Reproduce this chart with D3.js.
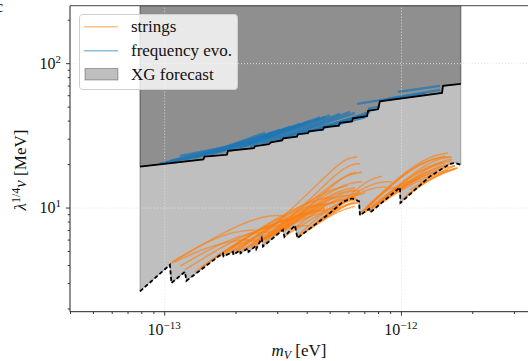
<!DOCTYPE html>
<html><head><meta charset="utf-8">
<script src="https://cdn.jsdelivr.net/npm/d3@7"></script>
<style>
body{margin:0;background:#fff}
svg{display:block}
text{font-family:"Liberation Serif","DejaVu Serif",serif;fill:#111}
</style>
</head><body>
<svg id="chart" width="528" height="361"></svg>
<script>
// ---------------- data ----------------
const massDomain = [4e-14, 3.44e-12];     // eV
const couplingDomain = [1.9, 250];         // MeV
const fillTop = 250;
const xMajorTicks = [1e-13, 1e-12];
const xTickExponents = ["\u221213", "\u221212"];
const yMajorTicks = [10, 100];
const yTickExponents = ["1", "2"];
const legendLabels = ["strings", "frequency evo.", "XG forecast"];

// lower (dashed) boundary of strings region: [m_V (eV), lambda^1/4 v (MeV)]
const lowerBoundary = [[0.79e-13,2.63],[1.057e-13,4.01],[1.073e-13,3.00],[1.223e-13,3.59],[1.241e-13,3.11],
 [1.686e-13,4.56],[1.770e-13,4.82],[1.78e-13,4.59],[1.951e-13,4.93],[1.96e-13,4.70],[2.089e-13,5.05],[2.10e-13,4.82],
 [2.258e-13,5.22],[2.27e-13,4.93],[2.44e-13,5.43],[2.45e-13,5.18],[2.579e-13,6.14],[2.612e-13,5.37],[3.172e-13,7.01],
 [3.219e-13,6.27],[3.566e-13,7.53],[3.653e-13,6.14],[5.01e-13,9.15],[5.69e-13,10.95],[6.21e-13,11.58],[6.65e-13,11.04],
 [6.71e-13,8.83],[7.33e-13,9.79],[7.43e-13,9.26],[9.90e-13,13.8],[9.95e-13,10.78],[1.326e-12,16.44],[1.611e-12,20.07],
 [1.691e-12,20.4],[1.79e-12,19.77]];

// upper (solid) boundary: frequency evolution envelope
const upperBoundary = [[0.79e-13,19.2],[1.464e-13,21.57],[1.479e-13,22.5],[1.84e-13,23.2],[1.858e-13,24.7],
 [2.393e-13,25.8],[2.417e-13,26.6],[2.77e-13,27.5],[2.824e-13,28.3],[3.144e-13,29.2],[3.19e-13,30.2],[3.637e-13,31.0],
 [3.672e-13,32.2],[4.048e-13,32.7],[4.088e-13,33.7],[4.683e-13,34.6],[4.729e-13,35.9],[5.47e-13,36.9],[5.525e-13,38.6],
 [6.21e-13,39.5],[6.27e-13,41.5],[7.19e-13,42.9],[7.26e-13,46.8],[8.0e-13,47.9],[8.15e-13,54.4],[1.491e-12,62.2],
 [1.505e-12,69.6],[1.79e-12,71.8]];

// string simulation tracks
const stringTracks = [
 [[1.06e-13,4.07],[1.42e-13,5.52],[1.90e-13,6.78],[2.42e-13,7.0]],
 [[1.08e-13,4.2],[1.56e-13,5.97],[2.19e-13,7.95],[2.80e-13,8.9],[3.24e-13,8.76]],
 [[1.22e-13,3.7],[1.72e-13,5.26],[2.42e-13,7.0],[3.08e-13,7.6]],
 [[1.42e-13,3.82],[2.09e-13,5.97],[2.94e-13,7.95],[3.75e-13,8.76]],
 [[1.64e-13,4.48],[2.30e-13,6.5],[3.24e-13,8.9],[4.13e-13,10.4],[4.78e-13,10.6]],
 [[1.81e-13,4.78],[2.54e-13,7.23],[3.57e-13,9.91],[4.55e-13,11.6],[5.26e-13,11.8]],
 [[1.99e-13,4.93],[2.80e-13,7.48],[3.93e-13,10.6],[5.01e-13,13.3],[5.97e-13,14.2]],
 [[2.19e-13,5.1],[3.08e-13,8.2],[4.13e-13,12.9],[5.11e-13,18.2],[5.91e-13,22.1],[6.52e-13,22.4]],
 [[2.42e-13,5.35],[3.40e-13,8.47],[4.46e-13,12.9],[5.42e-13,17.6],[6.21e-13,20.1],[6.71e-13,20.1]],
 [[2.59e-13,5.97],[3.57e-13,9.04],[4.78e-13,13.3],[5.80e-13,16.8],[6.85e-13,17.6]],
 [[2.80e-13,6.4],[3.75e-13,9.3],[5.01e-13,12.9],[6.09e-13,14.9],[6.85e-13,15.1]],
 [[3.17e-13,6.89],[4.13e-13,9.6],[5.26e-13,12.6],[6.39e-13,13.3]],
 [[3.40e-13,6.78],[4.33e-13,9.3],[5.53e-13,12.0],[6.71e-13,12.6]],
 [[3.67e-13,6.4],[4.55e-13,8.9],[5.80e-13,11.6],[7.05e-13,12.6]],
 [[3.93e-13,6.78],[4.78e-13,8.9],[5.80e-13,10.6],[6.71e-13,10.9]],
 [[4.33e-13,7.72],[5.26e-13,9.91],[6.09e-13,11.3],[6.58e-13,11.3]],
 [[1.17e-13,3.94],[1.64e-13,5.43],[2.30e-13,6.78],[2.94e-13,6.78]],
 [[1.90e-13,4.86],[2.66e-13,6.78],[3.75e-13,9.04],[4.78e-13,9.6]],
 [[2.30e-13,5.26],[3.24e-13,7.48],[4.33e-13,9.6],[5.53e-13,9.91]],
 [[2.94e-13,6.5],[3.93e-13,8.76],[5.26e-13,11.3],[6.45e-13,11.8]],
 [[2.09e-13,5.02],[2.80e-13,6.5],[3.57e-13,7.48],[4.05e-13,7.48]],
 [[1.35e-13,3.58],[1.81e-13,5.1],[2.30e-13,5.97],[2.59e-13,5.97]],
 [[1.11e-13,4.2],[1.49e-13,5.26],[1.99e-13,5.97],[2.30e-13,5.97]],
 [[2.49e-13,5.61],[3.40e-13,7.95],[4.55e-13,10.4],[5.64e-13,11.3]],
 [[2.66e-13,5.97],[3.47e-13,7.72],[4.55e-13,9.3],[5.26e-13,9.45]],
 [[1.72e-13,4.6],[2.19e-13,6.14],[2.80e-13,7.72],[3.40e-13,8.2]],
 [[1.86e-13,4.78],[2.42e-13,6.4],[3.24e-13,8.47],[4.13e-13,9.3]],
 [[2.05e-13,5.02],[2.66e-13,7.0],[3.57e-13,9.3],[4.55e-13,10.57],[5.26e-13,10.75]],
 [[2.35e-13,5.35],[3.08e-13,7.48],[4.13e-13,9.91],[5.26e-13,12.0],[6.09e-13,12.2]],
 [[2.64e-13,5.7],[3.40e-13,7.95],[4.33e-13,10.57],[5.53e-13,13.3],[6.39e-13,13.7]],
 [[3.02e-13,6.78],[3.75e-13,8.47],[4.78e-13,10.9],[5.80e-13,12.9],[6.71e-13,13.1]],
 [[3.27e-13,6.4],[4.13e-13,8.2],[5.26e-13,10.4],[6.39e-13,11.6]],
 [[3.75e-13,6.4],[4.55e-13,7.95],[5.53e-13,9.6],[6.39e-13,10.2]],
 [[4.13e-13,7.1],[5.01e-13,9.04],[5.97e-13,10.57],[6.58e-13,10.75]],
 [[4.55e-13,7.95],[5.53e-13,9.91],[6.39e-13,11.1]],
 [[2.97e-13,6.6],[3.93e-13,9.6],[5.01e-13,13.7],[5.97e-13,17.1],[6.45e-13,17.6]],
 [[2.17e-13,5.1],[2.94e-13,7.23],[3.93e-13,9.3],[4.78e-13,9.91]],
 [[5.01e-13,9.3],[6.09e-13,12.2],[7.26e-13,15.6],[8.32e-13,16.5]],
 [[5.69e-13,10.8],[6.71e-13,13.3],[8.0e-13,15.1],[9.15e-13,15.1]],
 [[4.55e-13,8.2],[5.80e-13,11.3],[7.40e-13,13.7],[8.64e-13,13.9]],
 [[6.85e-13,9.3],[8.98e-13,14.4],[1.146e-12,19.8],[1.392e-12,23.2],[1.58e-12,23.9]],
 [[7.05e-13,9.6],[9.43e-13,15.1],[1.203e-12,20.4],[1.462e-12,22.4],[1.611e-12,22.4]],
 [[7.40e-13,9.6],[9.43e-13,13.7],[1.203e-12,18.2],[1.462e-12,20.7],[1.64e-12,21.0]],
 [[7.55e-13,9.91],[9.90e-13,14.4],[1.263e-12,18.8],[1.534e-12,20.4]],
 [[7.77e-13,10.2],[9.90e-13,13.3],[1.203e-12,16.3],[1.392e-12,17.6]],
 [[8.15e-13,10.6],[1.039e-12,13.7],[1.326e-12,16.8],[1.58e-12,18.2]],
 [[8.56e-13,11.3],[1.091e-12,14.9],[1.392e-12,18.2],[1.691e-12,19.5]],
 [[1.009e-12,11.3],[1.203e-12,14.2],[1.462e-12,17.1],[1.691e-12,18.5]],
 [[1.049e-12,12.0],[1.263e-12,15.1],[1.534e-12,17.6],[1.724e-12,18.8]],
 [[7.05e-13,9.3],[8.56e-13,12.2],[1.039e-12,15.1],[1.203e-12,15.9]],
 [[6.71e-13,9.04],[7.77e-13,11.6],[8.98e-13,13.7],[9.71e-13,13.9]],
 [[7.26e-13,9.6],[9.43e-13,13.3],[1.263e-12,17.6],[1.534e-12,19.5]],
 [[1.091e-12,13.3],[1.326e-12,15.9],[1.58e-12,18.2],[1.74e-12,18.8]],
 [[1.203e-12,14.9],[1.462e-12,17.6],[1.691e-12,19.5]],
 [[7.85e-13,10.4],[9.90e-13,14.6],[1.263e-12,19.8],[1.49e-12,22.1],[1.64e-12,22.4]],
 [[8.98e-13,12.0],[1.146e-12,16.3],[1.434e-12,20.7],[1.64e-12,21.7]],
 [[6.92e-13,9.3],[8.56e-13,13.3],[1.091e-12,18.2],[1.326e-12,21.4],[1.534e-12,22.8]],
 [[9.43e-13,12.6],[1.203e-12,16.8],[1.462e-12,19.5],[1.64e-12,20.1]]
];

// frequency-evolution tracks
const freqTracks = [
 [[0.959e-13,20.1],[1.486e-13,23.6]],
 [[1.007e-13,20.4],[1.805e-13,25.1]],
 [[1.11e-13,21.0],[2.089e-13,27.2]],
 [[1.223e-13,21.4],[2.417e-13,29.4]],
 [[1.348e-13,22.1],[2.664e-13,32.9]],
 [[1.415e-13,22.8],[3.083e-13,34.5]],
 [[1.56e-13,23.2],[3.398e-13,36.2]],
 [[1.719e-13,24.3],[3.745e-13,38.0]],
 [[1.895e-13,24.7],[4.128e-13,39.8]],
 [[2.089e-13,25.9],[4.549e-13,42.2]],
 [[2.302e-13,26.3],[5.01e-13,43.5]],
 [[2.587e-13,27.6],[5.525e-13,44.6]],
 [[2.936e-13,28.9],[6.09e-13,46.0]],
 [[3.398e-13,31.0],[6.71e-13,42.9]],
 [[3.745e-13,32.4],[7.05e-13,42.2]],
 [[4.549e-13,35.7],[7.26e-13,44.6]],
 [[5.525e-13,39.2],[7.40e-13,46.0]],
 [[6.52e-13,52.2],[8.32e-13,55.7]],
 [[7.26e-13,48.3],[8.15e-13,50.0]],
 [[8.32e-13,55.7],[1.263e-12,62.2]],
 [[8.81e-13,56.6],[1.462e-12,65.3]],
 [[9.71e-13,63.3],[1.462e-12,69.6]],
 [[1.165e-13,22.8],[1.93e-13,26.7]],
 [[2.35e-13,29.4],[3.745e-13,36.8]],
 [[1.057e-13,21.0],[2.302e-13,28.9]],
 [[1.638e-13,24.3],[3.932e-13,38.0]],
 [[2.193e-13,26.6],[4.776e-13,42.5]],
 [[3.083e-13,29.9],[6.39e-13,45.3]],
 [[1.284e-13,22.4],[2.797e-13,31.0]]
];

// ---------------- drawing ----------------
const svg = d3.select("#chart");
const L = 70, R = 528, T = 5.7, B = 311.7;
const x = d3.scaleLog().domain(massDomain).range([L, R]);
const y = d3.scaleLog().domain(couplingDomain).range([B, T]);

svg.append("defs").append("clipPath").attr("id","clip")
  .append("rect").attr("x",L).attr("y",T).attr("width",R-L).attr("height",B-T);
const plot = svg.append("g").attr("clip-path","url(#clip)");

const area = d3.area().x(d=>x(d[0])).y0(y(fillTop)).y1(d=>y(d[1]));
[lowerBoundary, upperBoundary].forEach(b=>{
  plot.append("path").attr("d", area(b))
    .attr("fill","rgba(0,0,0,0.25)").attr("stroke","rgba(0,0,0,0.25)").attr("stroke-width",1);
});

// grid
plot.append("g").attr("transform",`translate(0,${B})`)
  .call(d3.axisBottom(x).tickValues(xMajorTicks).tickSize(-(B-T)).tickFormat(""))
  .call(g=>g.select(".domain").remove())
  .selectAll("line").attr("stroke","#e3e3e3").attr("stroke-width",0.9).attr("stroke-dasharray","1,2");
plot.append("g").attr("transform",`translate(${L},0)`)
  .call(d3.axisLeft(y).tickValues(yMajorTicks).tickSize(-(R-L)).tickFormat(""))
  .call(g=>g.select(".domain").remove())
  .selectAll("line").attr("stroke","#e3e3e3").attr("stroke-width",0.9).attr("stroke-dasharray","1,2");

const line = d3.line().x(d=>x(d[0])).y(d=>y(d[1]));
const smooth = d3.line().x(d=>x(d[0])).y(d=>y(d[1])).curve(d3.curveBasis);

plot.append("g").selectAll("path").data(stringTracks).join("path")
  .attr("d", smooth).attr("fill","none").attr("stroke","#ff7f0e")
  .attr("stroke-opacity",0.6).attr("stroke-width",1.6);

plot.append("g").selectAll("path").data(freqTracks).join("path")
  .attr("d", line).attr("fill","none").attr("stroke","#1f77b4")
  .attr("stroke-opacity",0.75).attr("stroke-width",2.4);

plot.append("path").attr("d", line(upperBoundary)).attr("fill","none")
  .attr("stroke","#000").attr("stroke-width",1.8).attr("stroke-linejoin","miter");
plot.append("path").attr("d", line(lowerBoundary)).attr("fill","none")
  .attr("stroke","#000").attr("stroke-width",1.8).attr("stroke-dasharray","4,2.5");

// axes
const minorX = [], minorY = [];
[-14,-13,-12].forEach(e=>{ for(let k=2;k<10;k++){ const v=k*Math.pow(10,e); if(v>=massDomain[0]&&v<=massDomain[1]) minorX.push(v);} });
[0,1,2].forEach(e=>{ for(let k=2;k<10;k++){ const v=k*Math.pow(10,e); if(v>=couplingDomain[0]&&v<=couplingDomain[1]) minorY.push(v);} });

function styleAxis(g){ g.select(".domain").remove(); g.selectAll("line").attr("stroke","#222").attr("stroke-width",0.9); }
svg.append("g").attr("transform",`translate(0,${B})`).call(d3.axisBottom(x).tickValues(xMajorTicks).tickSize(4).tickFormat("")).call(styleAxis);
svg.append("g").attr("transform",`translate(0,${B})`).call(d3.axisBottom(x).tickValues(minorX).tickSize(2.3).tickFormat("")).call(styleAxis);
svg.append("g").attr("transform",`translate(${L},0)`).call(d3.axisLeft(y).tickValues(yMajorTicks).tickSize(4).tickFormat("")).call(styleAxis);
svg.append("g").attr("transform",`translate(${L},0)`).call(d3.axisLeft(y).tickValues(minorY).tickSize(2.3).tickFormat("")).call(styleAxis);

// spines
svg.append("line").attr("x1",L).attr("x2",R+2).attr("y1",B).attr("y2",B).attr("stroke","#222").attr("stroke-width",1);
svg.append("line").attr("x1",L).attr("x2",L).attr("y1",T).attr("y2",B).attr("stroke","#222").attr("stroke-width",1);
svg.append("line").attr("x1",L).attr("x2",R+2).attr("y1",T).attr("y2",T).attr("stroke","#444").attr("stroke-width",1);

// tick labels
xMajorTicks.forEach((v,i)=>{
  const t = svg.append("text").attr("x",x(v)).attr("y",335).attr("text-anchor","middle").attr("font-size",16);
  t.append("tspan").text("10");
  t.append("tspan").attr("dy",-6).attr("font-size",11).text(xTickExponents[i]);
});
yMajorTicks.forEach((v,i)=>{
  const t = svg.append("text").attr("x",61).attr("y",y(v)+5.5).attr("text-anchor","end").attr("font-size",16);
  t.append("tspan").text("10");
  t.append("tspan").attr("dy",-6).attr("font-size",11).text(yTickExponents[i]);
});

// axis labels
const xl = svg.append("text").attr("x",299).attr("y",356).attr("text-anchor","middle").attr("font-size",17);
xl.append("tspan").attr("font-style","italic").text("m");
xl.append("tspan").attr("font-style","italic").attr("font-size",12).attr("dy",3).text("V");
xl.append("tspan").attr("dy",-3).text(" [eV]");

const yl = svg.append("text").attr("transform","translate(26,170) rotate(-90)").attr("text-anchor","middle").attr("font-size",17);
yl.append("tspan").attr("font-style","italic").text("\u03bb");
yl.append("tspan").attr("font-size",12).attr("dy",-6).text("1/4");
yl.append("tspan").attr("font-style","italic").attr("dy",6).text("v");
yl.append("tspan").text(" [MeV]");

// partial panel label at corner (cropped in the original figure)
svg.append("text").attr("x",-4).attr("y",12).attr("font-size",16).text("c");

// legend
const lg = svg.append("g");
lg.append("rect").attr("x",79.5).attr("y",14.5).attr("width",158).attr("height",75).attr("rx",3)
  .attr("fill","rgba(255,255,255,0.8)").attr("stroke","#d0d0d0").attr("stroke-width",1);
lg.append("line").attr("x1",84).attr("x2",118).attr("y1",26.7).attr("y2",26.7)
  .attr("stroke","#ff7f0e").attr("stroke-opacity",0.5).attr("stroke-width",1.6);
lg.append("line").attr("x1",84).attr("x2",118).attr("y1",50.7).attr("y2",50.7)
  .attr("stroke","#1f77b4").attr("stroke-opacity",0.5).attr("stroke-width",1.6);
lg.append("rect").attr("x",85).attr("y",68.5).attr("width",33).attr("height",11.5)
  .attr("fill","rgba(0,0,0,0.25)").attr("stroke","rgba(0,0,0,0.3)").attr("stroke-width",1);
const ly = [32, 56, 80];
legendLabels.forEach((s,i)=>{
  lg.append("text").attr("x",131).attr("y",ly[i]).attr("font-size",17).text(s);
});
</script>
</body></html>
